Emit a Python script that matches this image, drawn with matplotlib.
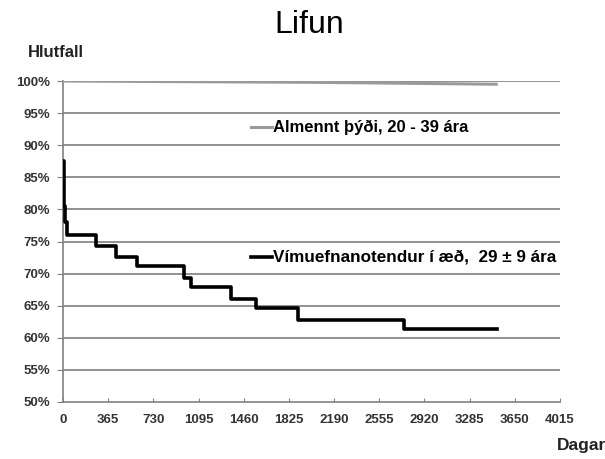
import matplotlib.pyplot as plt
from matplotlib.ticker import FuncFormatter

plt.rcParams['font.family'] = ['Liberation Sans', 'DejaVu Sans']

########## Data

# General population, 20 - 39 years
gen_days = [0, 1000, 2000, 3000, 3500]
gen_surv = [100.0, 99.9, 99.8, 99.6, 99.5]

# Injecting drug users (step curve)
idu_days = [0, 5, 10, 20, 35, 270, 431, 601, 978, 1037, 1361, 1563, 1897, 2751, 3507]
idu_surv = [87.5, 84.0, 80.5, 78.0, 76.0, 74.3, 72.6, 71.2, 69.3, 67.9, 66.0, 64.7, 62.8, 61.35, 61.35]

x_ticks = [0, 365, 730, 1095, 1460, 1825, 2190, 2555, 2920, 3285, 3650, 4015]
y_ticks = [50, 55, 60, 65, 70, 75, 80, 85, 90, 95, 100]

gen_label = "Almennt þýði, 20 - 39 ára"
idu_label = "Vímuefnanotendur í æð,  29 ± 9 ára"

########## Plot

fig = plt.figure(figsize=(6.05, 4.59), dpi=100)
ax = fig.add_axes([0.1041, 0.1242, 0.8215, 0.6993])

for y in y_ticks[1:]:
    ax.axhline(y, color='#7f7f7f', lw=1.2, zorder=1)

ax.plot(gen_days, gen_surv, color='#9a9a9a', lw=2.2, zorder=3)
ax.step(idu_days, idu_surv, where='post', color='black', lw=2.6, zorder=4)

ax.set_xlim(0, 4015)
ax.set_ylim(50, 100)
ax.set_xticks(x_ticks)
ax.set_yticks(y_ticks)
ax.yaxis.set_major_formatter(FuncFormatter(lambda v, p: f"{int(v)}%"))

for s in ['top', 'right']:
    ax.spines[s].set_visible(False)
for s in ['left', 'bottom']:
    ax.spines[s].set_color('#808080')
    ax.spines[s].set_linewidth(1.2)

ax.tick_params(axis='y', direction='out', length=4, color='#808080', labelsize=9.5, labelcolor='#333333', pad=5)
ax.tick_params(axis='x', direction='in', length=3, color='#808080', labelsize=9.5, labelcolor='#333333', pad=9)
for lbl in ax.get_xticklabels() + ax.get_yticklabels():
    lbl.set_fontweight('bold')

## In-plot legend
ax.plot([1518, 1690], [92.8, 92.8], color='#9a9a9a', lw=2.2, clip_on=False)
ax.text(1700, 92.8, gen_label, fontsize=12, fontweight='bold', va='center', ha='left')
ax.plot([1518, 1690], [72.6, 72.6], color='black', lw=2.6, clip_on=False)
ax.text(1700, 72.6, idu_label, fontsize=12.3, fontweight='bold', va='center', ha='left')

fig.text(0.511, 0.945, "Lifun", fontsize=23, ha='center', va='center')
fig.text(0.046, 0.886, "Hlutfall", fontsize=12, fontweight='bold', ha='left', va='center', color='#222222')
fig.text(0.92, 0.03, "Dagar", fontsize=12.5, fontweight='bold', ha='left', va='center', color='#222222')

fig.savefig("out.png", dpi=100)
